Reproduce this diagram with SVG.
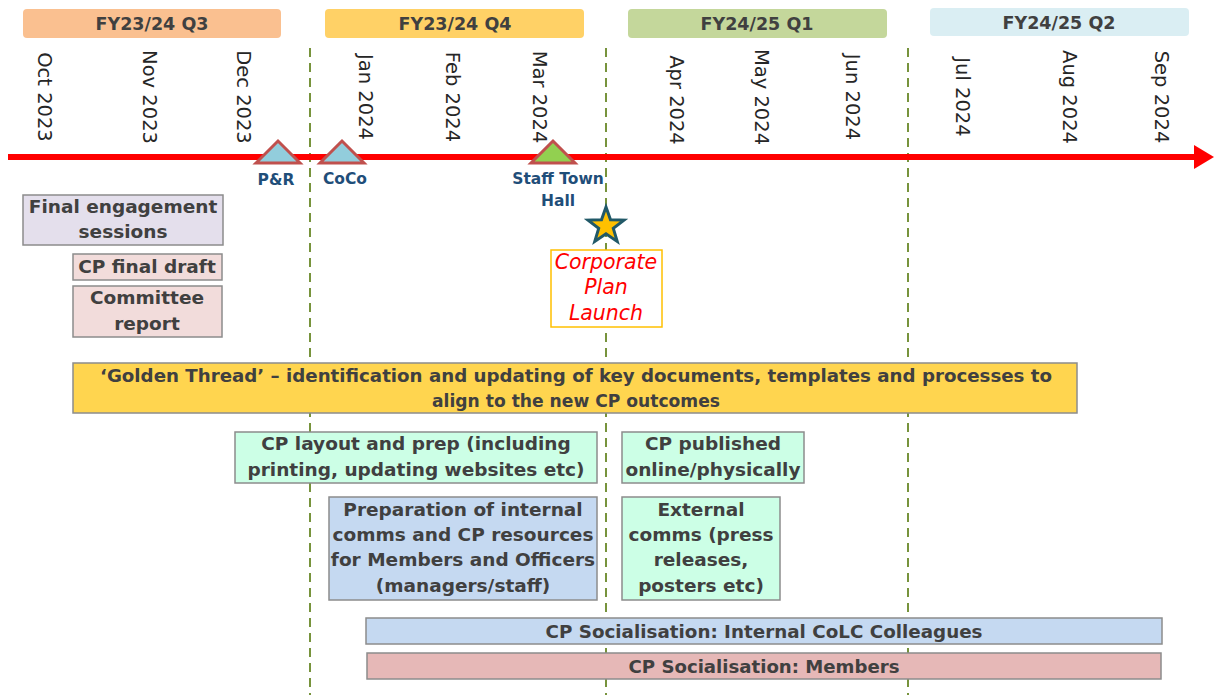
<svg xmlns="http://www.w3.org/2000/svg" width="1216" height="695" viewBox="0 0 1216 695">
<style>
.hdr{font-family:"DejaVu Sans","Liberation Sans",sans-serif;font-weight:bold;font-size:17.5px;fill:#404040;text-anchor:middle}
.mon{font-family:"DejaVu Sans","Liberation Sans",sans-serif;font-size:19.5px;fill:#262626;text-anchor:middle}
.box{stroke:#8c8c8c;stroke-width:1.5}
.bt{font-family:"DejaVu Sans","Liberation Sans",sans-serif;font-weight:bold;font-size:18.5px;fill:#404040;text-anchor:middle}
.ms{font-family:"DejaVu Sans","Liberation Sans",sans-serif;font-weight:bold;font-size:15.5px;fill:#1f4e79;text-anchor:middle}
.grid{stroke:#77933c;stroke-width:2;stroke-dasharray:9 6;fill:none}
.tri{stroke:#c0504d;stroke-width:3;stroke-linejoin:miter}
.launch{font-family:"DejaVu Sans","Liberation Sans",sans-serif;font-style:italic;font-size:20.5px;fill:#ff0000;text-anchor:middle}
</style>
<rect width="1216" height="695" fill="#ffffff"/>
<g id="connectors">
<line class="grid" x1="310" y1="48" x2="310" y2="695"/>
<line class="grid" x1="606" y1="48" x2="606" y2="695"/>
<line class="grid" x1="908" y1="48" x2="908" y2="695"/>
<line x1="8" y1="157" x2="1198" y2="157" stroke="#ff0000" stroke-width="6"/>
<polygon points="1194,145 1214,157 1194,169" fill="#ff0000"/>
</g>
<g id="q3"><rect x="23" y="9" width="258" height="29" rx="4" fill="#fac090"/><text class="hdr" x="152" y="30">FY23/24 Q3</text></g>
<g id="q4"><rect x="325" y="9" width="259" height="29" rx="4" fill="#ffd166"/><text class="hdr" x="455" y="30">FY23/24 Q4</text></g>
<g id="q1"><rect x="628" y="9" width="259" height="29" rx="4" fill="#c4d79b"/><text class="hdr" x="757" y="30">FY24/25 Q1</text></g>
<g id="q2"><rect x="930" y="8" width="259" height="28" rx="4" fill="#daeef3"/><text class="hdr" x="1059" y="29">FY24/25 Q2</text></g>
<g id="months">
<text class="mon" transform="translate(38,97) rotate(90)">Oct 2023</text>
<text class="mon" transform="translate(143,97) rotate(90)">Nov 2023</text>
<text class="mon" transform="translate(237,97) rotate(90)">Dec 2023</text>
<text class="mon" transform="translate(359,97) rotate(90)">Jan 2024</text>
<text class="mon" transform="translate(446,97) rotate(90)">Feb 2024</text>
<text class="mon" transform="translate(533,97) rotate(90)">Mar 2024</text>
<text class="mon" transform="translate(670,100) rotate(90)">Apr 2024</text>
<text class="mon" transform="translate(755,97) rotate(90)">May 2024</text>
<text class="mon" transform="translate(846,97) rotate(90)">Jun 2024</text>
<text class="mon" transform="translate(956,97) rotate(90)">Jul 2024</text>
<text class="mon" transform="translate(1063,97) rotate(90)">Aug 2024</text>
<text class="mon" transform="translate(1155,97) rotate(90)">Sep 2024</text>
</g>
<g id="pr"><polygon class="tri" points="278,141 256,163 300,163" fill="#92cddc"/><text class="ms" x="276" y="185">P&amp;R</text></g>
<g id="coco"><polygon class="tri" points="342,141 320,163 364,163" fill="#92cddc"/><text class="ms" x="345" y="184">CoCo</text></g>
<g id="townhall"><polygon class="tri" points="553,141 531,163 575,163" fill="#92d050"/><text class="ms" x="558" y="184">Staff Town</text><text class="ms" x="558" y="206">Hall</text></g>
<g id="star"><polygon points="606,207 610.5,219.8 624,220.1 613.3,228.4 617.2,241.4 606,233.7 594.8,241.4 598.7,228.4 588,220.1 601.5,219.8" fill="#ffc000" stroke="#215968" stroke-width="3" stroke-linejoin="miter"/></g>
<g id="launch"><rect x="551" y="250" width="111" height="77" fill="#ffffff" stroke="#ffc000" stroke-width="1.5"/><text class="launch" x="606" y="269">Corporate</text><text class="launch" x="606" y="294">Plan</text><text class="launch" x="606" y="320">Launch</text></g>
<g id="final-engagement"><rect class="box" x="23" y="195" width="200" height="50" fill="#e4dfec"/><text class="bt" x="123" y="213">Final engagement</text><text class="bt" x="123" y="238">sessions</text></g>
<g id="cp-final-draft"><rect class="box" x="73" y="254" width="149" height="26" fill="#f2dcdb"/><text class="bt" x="147" y="273">CP final draft</text></g>
<g id="committee-report"><rect class="box" x="73" y="286" width="149" height="51" fill="#f2dcdb"/><text class="bt" x="147" y="304">Committee</text><text class="bt" x="147" y="330">report</text></g>
<g id="golden-thread"><rect class="box" x="73" y="363" width="1004" height="50" fill="#ffd54f"/><text class="bt" x="576" y="382" font-size="20" textLength="952" lengthAdjust="spacingAndGlyphs">‘Golden Thread’ – identification and updating of key documents, templates and processes to</text><text class="bt" x="576" y="407" font-size="20" textLength="288" lengthAdjust="spacingAndGlyphs">align to the new CP outcomes</text></g>
<g id="cp-layout"><rect class="box" x="235" y="432" width="362" height="51" fill="#ccffe6"/><text class="bt" x="416" y="450">CP layout and prep (including</text><text class="bt" x="416" y="476">printing, updating websites etc)</text></g>
<g id="cp-published"><rect class="box" x="622" y="432" width="182" height="51" fill="#ccffe6"/><text class="bt" x="713" y="450">CP published</text><text class="bt" x="713" y="476">online/physically</text></g>
<g id="internal-comms"><rect class="box" x="329" y="497" width="268" height="103" fill="#c5d9f1"/><text class="bt" x="463" y="516">Preparation of internal</text><text class="bt" x="463" y="541">comms and CP resources</text><text class="bt" x="463" y="566">for Members and Officers</text><text class="bt" x="463" y="592">(managers/staff)</text></g>
<g id="external-comms"><rect class="box" x="622" y="497" width="158" height="103" fill="#ccffe6"/><text class="bt" x="701" y="516">External</text><text class="bt" x="701" y="541">comms (press</text><text class="bt" x="701" y="566">releases,</text><text class="bt" x="701" y="592">posters etc)</text></g>
<g id="soc-colleagues"><rect class="box" x="366" y="618" width="796" height="26" fill="#c5d9f1"/><text class="bt" x="764" y="638" font-size="19.5" textLength="437" lengthAdjust="spacingAndGlyphs">CP Socialisation: Internal CoLC Colleagues</text></g>
<g id="soc-members"><rect class="box" x="367" y="653" width="794" height="26" fill="#e6b8b7"/><text class="bt" x="764" y="673" font-size="19.5" textLength="271" lengthAdjust="spacingAndGlyphs">CP Socialisation: Members</text></g>
</svg>
